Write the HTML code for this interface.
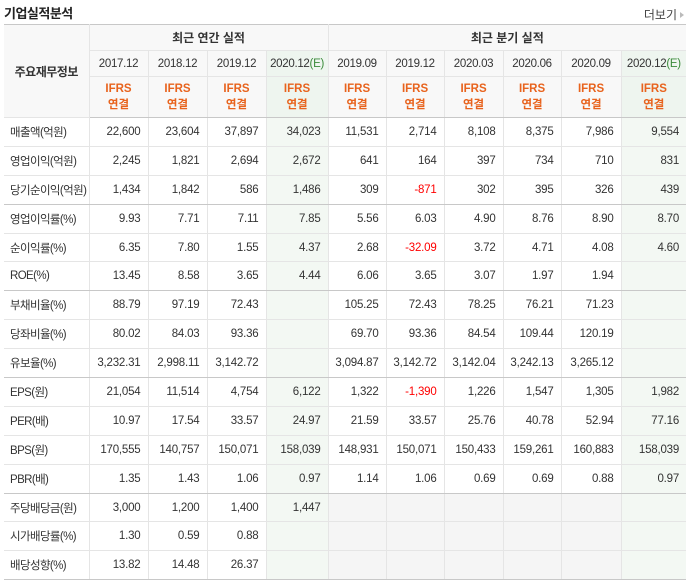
<!DOCTYPE html>
<html><head><meta charset="utf-8">
<style>
*{margin:0;padding:0;box-sizing:border-box}
body{width:690px;height:584px;background:#fff;font-family:"Liberation Sans","Noto Sans CJK KR",sans-serif;color:#333;position:relative;overflow:hidden}
.title{position:absolute;left:4px;top:3px;font-size:13px;font-weight:bold;color:#222;letter-spacing:-0.5px}
.more{position:absolute;right:6px;top:6px;font-size:12px;color:#444}
.more:after{content:"";display:inline-block;border-left:4px solid #bbb;border-top:3px solid transparent;border-bottom:3px solid transparent;margin-left:3px;vertical-align:1px}
table{position:absolute;left:4px;top:24px;border-collapse:collapse;table-layout:fixed;width:682px;font-size:11.5px}
td,th{border:1px solid #e5e5e5;font-weight:normal;overflow:hidden;white-space:nowrap}
tr:first-child th{border-top:1px solid #c8c8c8}
th{background:#f8f8f8;text-align:center}
th.grp{font-weight:bold;height:26px;font-size:12px}
th.per{height:26px;letter-spacing:-0.3px;font-size:11.5px}
th.typ{height:41px;color:#e8631d;line-height:16px;font-weight:bold;font-size:11.5px}
td{height:28.9px;text-align:right;padding-right:7px;letter-spacing:-0.2px}
td.lbl{text-align:left;padding-left:6px;padding-right:0;border-left:none;letter-spacing:-0.6px;font-size:11.5px}
.l{border-left:1px solid #c8c8c8}
th.c0{border-left:none}
.e{background:#f3f8f3}
th.e{background:#eef5ef}
.g{background:#f5f5f5}
.neg{color:#f00}
.sep td,.sep th{border-bottom:1px solid #c8c8c8}
.last td{border-bottom:1px solid #c8c8c8}
.rc{border-right:none}
.est{color:#3a8b3a}
</style></head><body>
<div class="title">기업실적분석</div>
<div class="more">더보기</div>
<table>
<colgroup><col style="width:85px"><col style="width:59px"><col style="width:59px"><col style="width:59px"><col style="width:62px"><col style="width:58px"><col style="width:58px"><col style="width:59px"><col style="width:58px"><col style="width:60px"><col style="width:65px"></colgroup>
<thead>
<tr><th rowspan="3" class="c0" style="background:#f8f8f8;font-weight:bold;font-size:12px;letter-spacing:-0.5px">주요재무정보</th>
<th colspan="4" class="grp l">최근 연간 실적</th>
<th colspan="6" class="grp l rc">최근 분기 실적</th></tr>
<tr id="periods"></tr>
<tr id="types" class="sep"></tr>
</thead>
<tbody id="body"></tbody>
</table>
<script>
const periods=["2017.12","2018.12","2019.12","2020.12","2019.09","2019.12","2020.03","2020.06","2020.09","2020.12"];
const estimated=[false,false,false,true,false,false,false,false,false,true];
const labels=["매출액(억원)","영업이익(억원)","당기순이익(억원)","영업이익률(%)","순이익률(%)","ROE(%)","부채비율(%)","당좌비율(%)","유보율(%)","EPS(원)","PER(배)","BPS(원)","PBR(배)","주당배당금(원)","시가배당률(%)","배당성향(%)"];
const values=[
["22,600","23,604","37,897","34,023","11,531","2,714","8,108","8,375","7,986","9,554"],
["2,245","1,821","2,694","2,672","641","164","397","734","710","831"],
["1,434","1,842","586","1,486","309","-871","302","395","326","439"],
["9.93","7.71","7.11","7.85","5.56","6.03","4.90","8.76","8.90","8.70"],
["6.35","7.80","1.55","4.37","2.68","-32.09","3.72","4.71","4.08","4.60"],
["13.45","8.58","3.65","4.44","6.06","3.65","3.07","1.97","1.94",""],
["88.79","97.19","72.43","","105.25","72.43","78.25","76.21","71.23",""],
["80.02","84.03","93.36","","69.70","93.36","84.54","109.44","120.19",""],
["3,232.31","2,998.11","3,142.72","","3,094.87","3,142.72","3,142.04","3,242.13","3,265.12",""],
["21,054","11,514","4,754","6,122","1,322","-1,390","1,226","1,547","1,305","1,982"],
["10.97","17.54","33.57","24.97","21.59","33.57","25.76","40.78","52.94","77.16"],
["170,555","140,757","150,071","158,039","148,931","150,071","150,433","159,261","160,883","158,039"],
["1.35","1.43","1.06","0.97","1.14","1.06","0.69","0.69","0.88","0.97"],
["3,000","1,200","1,400","1,447","","","","","",""],
["1.30","0.59","0.88","","","","","","",""],
["13.82","14.48","26.37","","","","","","",""]
];
const groupEnds=[2,5,8,12];
const pr=document.getElementById('periods'),ty=document.getElementById('types'),tb=document.getElementById('body');
periods.forEach((p,i)=>{
 const th=document.createElement('th');
 th.className='per'+(estimated[i]?' e':'')+(i===0||i===4?' l':'')+(i===9?' rc':'');
 th.innerHTML=p+(estimated[i]?'<span class="est">(E)</span>':'');
 
 
 pr.appendChild(th);
 const t=document.createElement('th');
 t.className='typ'+(estimated[i]?' e':'')+(i===0||i===4?' l':'')+(i===9?' rc':'');
 t.innerHTML='IFRS<br>연결';
 
 
 ty.appendChild(t);
});
labels.forEach((lb,r)=>{
 const tr=document.createElement('tr');
 if(groupEnds.includes(r))tr.className='sep';
 if(r===labels.length-1)tr.className='last';
 const td=document.createElement('td');td.className='lbl';td.textContent=lb;
 
 
 tr.appendChild(td);
 values[r].forEach((v,i)=>{
  const c=document.createElement('td');
  let cls=[];
  if(i===0||i===4)cls.push('l');
  if(i===9)cls.push('rc');
  if(estimated[i])cls.push('e');
  else if(r>=13&&i>=4)cls.push('g');
  if(v.startsWith('-'))cls.push('neg');
  c.className=cls.join(' ');
  c.textContent=v;
  
  
  tr.appendChild(c);
 });
 tb.appendChild(tr);
});
</script>
</body></html>
